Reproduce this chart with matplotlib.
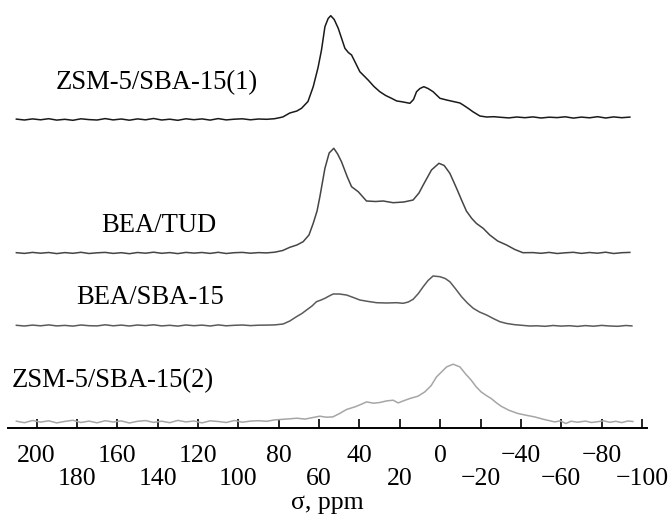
import numpy as np
import matplotlib
matplotlib.use("Agg")
import matplotlib.pyplot as plt
from matplotlib.ticker import FixedLocator, FixedFormatter

plt.rcParams['font.family'] = ['Liberation Serif', 'DejaVu Serif']

# shared left baseline grid (ppm)
left_ppm = [210, 206, 202, 198, 194, 190, 186, 182, 178, 174, 170, 166, 162, 158, 154, 150,
            146, 142, 138, 134, 130, 126, 122, 118, 114, 110, 106, 102, 98, 94, 90, 86]

# ZSM-5/SBA-15(1)
s1_left = [0.4, -0.5, 0.6, -0.3, 0.8, -0.6, 0.2, -0.8, 0.7, -0.1, -0.5, 0.9, -0.4, 0.5, -0.7, 0.6,
           -0.3, 1.0, -0.5, 0.3, -0.8, 0.7, -0.2, 0.6, -0.6, 0.9, -0.4, 0.3, 0.7, -0.3, 0.5, 0.2]
s1_ppm = [82, 78, 74.5, 71, 68.7, 65.5, 62.9, 60.5, 58.8, 57.1, 55.5, 54.2, 52.5, 50.5, 47.2, 45.5,
          43.9, 41.8, 39.8, 35.7, 32.8, 29.9, 27, 24.1, 21.5, 19.1, 15.0, 13.2, 11.7, 10, 8.1, 6,
          3.5, 0.1, -3.2, -6.5, -9.8, -11.4, -14, -16.2, -19.7, -23, -26.6,
          -30, -34, -38, -42, -46, -50, -54, -58, -62, -66, -70, -74, -78, -82, -86, -90, -94]
s1_int = [0.8, 2.5, 6.5, 8.5, 11.2, 18, 32.8, 52, 69.5, 92.8, 101, 103.8, 100, 91.2, 71.2, 67,
          64.5, 56, 47.8, 39.5, 33, 27.8, 24, 21.2, 18.5, 17.8, 16.2, 20, 27.8, 31, 32.8, 31,
          27.8, 21.2, 19.5, 18, 16.5, 14.5, 11, 7.8, 3.5, 2.5, 2.8,
          2.2, 1.6, 2.5, 1.8, 2.6, 1.5, 2.3, 1.9, 2.7, 1.4, 2.4, 1.7, 2.8, 1.5, 2.6, 1.8, 2.4]

# BEA/TUD
s2_left = [0.3, -0.4, 0.6, -0.2, 0.5, -0.6, 0.4, -0.3, 0.7, -0.5, 0.2, 0.6, -0.4, 0.3, -0.7, 0.5,
           -0.2, 0.8, -0.3, 0.4, -0.6, 0.6, -0.1, 0.5, -0.4, 0.7, -0.5, 0.3, 0.6, -0.2, 0.4, 0.1]
s2_ppm = [82, 78, 74.5, 71, 67.9, 65, 62.9, 61, 59.6, 57.1, 55, 52.7, 50.8, 48.9, 46, 43.9,
          40.6, 36.5, 32, 28.2, 23.3, 18, 13.4, 10.5, 8.4, 4.3, 0.6, -2, -4.8, -6.3, -8.5, -10.6,
          -13, -15.6, -18, -21.3, -24.6, -28.5, -32.9, -37, -41,
          -46, -50, -54, -58, -62, -66, -70, -74, -78, -82, -86, -90, -94]
s2_int = [0.8, 2.5, 5.7, 8, 11.3, 18, 29.7, 42, 56.3, 84.7, 100, 104.7, 99, 91.3, 76, 66.3,
          61.3, 52, 51.5, 52, 50.3, 51, 53, 60, 68, 83, 89.7, 87.5, 79.7, 73, 63, 53,
          42, 34.7, 29.5, 24.7, 18, 12, 8, 3.5, 0.3,
          0.4, -0.3, 0.6, -0.5, 0.2, 0.7, -0.4, 0.5, -0.2, 0.8, -0.5, 0.3, 0.6]

# BEA/SBA-15
s3_left = [0.2, -0.5, 0.4, -0.3, 0.6, -0.4, 0.1, -0.6, 0.5, -0.2, -0.4, 0.7, -0.3, 0.4, -0.5, 0.5,
           -0.1, 0.7, -0.4, 0.2, -0.6, 0.5, -0.2, 0.4, -0.5, 0.6, -0.3, 0.2, 0.5, -0.1, 0.3, 0.4]
s3_ppm = [82, 77.8, 74.5, 71.2, 68.5, 66.2, 63.5, 61.3, 59, 57.1, 55, 53, 50, 46.4, 43, 39.8,
          35.5, 31.5, 26.5, 21.6, 18.3, 15.8, 13.4, 10.8, 8.4, 6, 3.5, 0.1, -2.5, -4.8, -7.5, -10.6,
          -13.5, -16.4, -19.5, -23, -26.3, -29.6, -33, -37, -40.5, -44.4,
          -48, -52, -56, -60, -64, -68, -72, -76, -80, -84, -88, -92, -95]
s3_int = [0.6, 1.5, 4.5, 8.8, 12, 15.5, 19.5, 23.8, 25.5, 27.2, 29.5, 31.5, 31.5, 30.5, 28, 25.5,
          24, 22.8, 22.5, 22.8, 22.2, 23.5, 26.2, 32, 38.8, 45, 49.5, 48.8, 47, 43.8, 37, 28.8,
          22.5, 17.2, 13.5, 10.5, 7, 3.8, 2, 0.8, 0.2, -0.5,
          -0.3, -0.8, 0.0, -0.6, -0.2, -0.9, -0.1, -0.7, 0.1, -0.5, -0.8, 0.0, -0.4]

# ZSM-5/SBA-15(2)
s4_left = [0.5, -1.0, 1.2, -0.4, 0.9, -1.2, 0.3, 1.4, -0.8, 0.6, -1.1, 1.0, -0.3, 0.8, -1.3, 0.4,
           1.1, -0.7, 0.5, -1.0, 1.3, -0.2, 0.7, -1.2, 0.9, 0.2, -0.8, 1.2, -0.5, 0.6, 1.0, 0.4]
s4_ppm = [82, 79.4, 75, 71, 67, 63, 59.6, 56.5, 53.2, 50, 46.4, 42, 39, 36.5, 33, 29.9,
          26.5, 23.3, 20.8, 18, 15, 11, 7.6, 4.5, 1.8, -0.8, -3.2, -6.4, -9.8, -12.5, -15.4, -17.8,
          -20.3, -23, -25.3, -27.8, -30.2, -34, -38.5, -42.5, -46.8, -51, -56.7, -59.5, -62.3,
          -64.9, -68, -72, -75, -78.1, -81, -84, -87, -90, -93, -95.5]
s4_int = [1.8, 2.2, 2.8, 3.5, 2.6, 4.2, 5.5, 4.5, 4.8, 8, 12.2, 15, 17.5, 19.8, 18.5, 19.2,
          20.8, 21.5, 18.8, 21, 23.2, 25.5, 29.8, 36, 44.8, 50, 54.8, 57.5, 54.8, 48, 41.5, 35,
          29.8, 26, 23.2, 19, 15.5, 11.5, 8.2, 6.5, 4.8, 2.5, -0.2, 0.8, -1.8,
          0.5, -0.5, 0.6, -0.8, 0, 0.9, -0.6, 0.4, -0.9, 0.7, 0.2]

names = ["ZSM-5/SBA-15(1)", "BEA/TUD", "BEA/SBA-15", "ZSM-5/SBA-15(2)"]

major_ticks = [200, 160, 120, 80, 40, 0, -40, -80]
major_labels = ["200", "160", "120", "80", "40", "0", "\u221240", "\u221280"]
minor_ticks = [180, 140, 100, 60, 20, -20, -60, -100]
minor_labels = ["180", "140", "100", "60", "20", "\u221220", "\u221260", "\u2212100"]

# stacking offsets and label spots
offsets = [308.5, 175, 102.5, 6.3]
colors = ["#1a1a1a", "#454545", "#5a5a5a", "#a6a6a6"]
label_pos = [(140.4, 345), (139.4, 203), (143.8, 130), (162, 47)]

fig = plt.figure(figsize=(6.72, 5.2), dpi=100)
ax = fig.add_axes([8.3 / 672, 92 / 520, (647 - 8.3) / 672, 428 / 520])

series = [(s1_left, s1_ppm, s1_int), (s2_left, s2_ppm, s2_int),
          (s3_left, s3_ppm, s3_int), (s4_left, s4_ppm, s4_int)]
for i, (base, ppm, inten) in enumerate(series):
    x = np.array(left_ppm + ppm)
    y = np.array(base + inten) + offsets[i]
    ax.plot(x, y, color=colors[i], lw=1.1)
    ax.text(label_pos[i][0], label_pos[i][1], names[i], fontsize=19.2,
            ha="center", va="center")

ax.set_xlim(214, -102.5)
ax.set_ylim(0, 428)

for s in ["left", "top", "right"]:
    ax.spines[s].set_visible(False)
ax.spines["bottom"].set_linewidth(1.4)
ax.set_yticks([])

ax.xaxis.set_major_locator(FixedLocator(major_ticks))
ax.xaxis.set_major_formatter(FixedFormatter(major_labels))
ax.xaxis.set_minor_locator(FixedLocator(minor_ticks))
ax.xaxis.set_minor_formatter(FixedFormatter(minor_labels))
ax.tick_params(axis="x", which="both", direction="in", length=6.5, width=1.2,
               labelsize=18.5)
ax.tick_params(axis="x", which="major", pad=12.5)
ax.tick_params(axis="x", which="minor", pad=29)
ax.set_xlabel("\u03c3, ppm", fontsize=18.5, labelpad=1)

fig.savefig("out.png", dpi=100)
